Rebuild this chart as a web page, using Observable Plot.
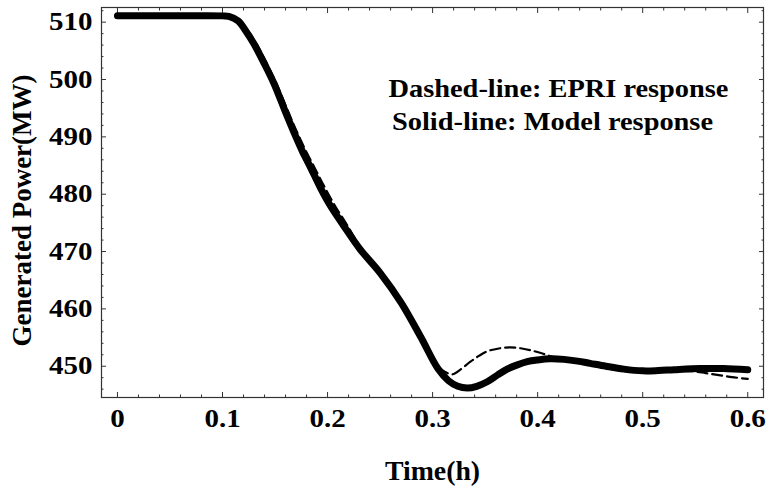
<!DOCTYPE html>
<html>
<head>
<meta charset="utf-8">
<script src="https://cdn.jsdelivr.net/npm/d3@7"></script>
<script src="https://cdn.jsdelivr.net/npm/@observablehq/plot@0.6"></script>
<style>
  html, body { margin: 0; padding: 0; background: white; }
</style>
</head>
<body>
<div id="chart"></div>
<script>
// ---- data ----
const modelT = [0, 0.05, 0.1, 0.106, 0.115, 0.122, 0.13, 0.14, 0.149, 0.16, 0.168, 0.176, 0.184, 0.193, 0.203, 0.215, 0.231, 0.25, 0.27, 0.289, 0.305, 0.315, 0.324, 0.333, 0.342, 0.352, 0.362, 0.371, 0.38, 0.39, 0.4, 0.412, 0.425, 0.438, 0.45, 0.465, 0.482, 0.5, 0.515, 0.53, 0.555, 0.577, 0.6];
const modelP = [511.1, 511.1, 511.1, 511.0, 510.2, 508.5, 506.2, 502.7, 499.3, 494.3, 490.8, 487.5, 484.6, 481.2, 477.9, 474.6, 470.4, 466.3, 461.1, 455.0, 449.6, 447.5, 446.5, 446.2, 446.5, 447.3, 448.5, 449.5, 450.2, 450.8, 451.1, 451.3, 451.2, 450.9, 450.5, 450.0, 449.5, 449.2, 449.25, 449.4, 449.6, 449.6, 449.4];

const epriT = [0, 0.05, 0.1, 0.108, 0.117, 0.125, 0.133, 0.143, 0.152, 0.163, 0.171, 0.18, 0.188, 0.197, 0.207, 0.218, 0.232, 0.25, 0.27, 0.289, 0.305, 0.312, 0.319, 0.327, 0.336, 0.344, 0.352, 0.363, 0.374, 0.385, 0.393, 0.403, 0.415, 0.43, 0.45, 0.465, 0.482, 0.5, 0.52, 0.535, 0.549, 0.56, 0.571, 0.585, 0.6];
const epriP = [511.1, 511.1, 511.1, 511.0, 510.1, 508.3, 506.0, 502.5, 499.0, 494.2, 490.8, 487.3, 484.5, 481.3, 478.0, 474.8, 470.6, 466.3, 461.0, 454.8, 450.0, 449.0, 448.6, 449.5, 450.8, 451.8, 452.6, 453.1, 453.3, 453.1, 452.8, 452.3, 451.6, 451.0, 450.3, 449.7, 449.2, 449.0, 449.1, 449.2, 449.1, 448.8, 448.5, 448.1, 447.8];

const xTicks = [0, 0.1, 0.2, 0.3, 0.4, 0.5, 0.6];
const xMinorTicks = [0.02, 0.04, 0.06, 0.08, 0.12, 0.14, 0.16, 0.18, 0.22, 0.24, 0.26, 0.28, 0.32, 0.34, 0.36, 0.38, 0.42, 0.44, 0.46, 0.48, 0.52, 0.54, 0.56, 0.58];
const yTicks = [450, 460, 470, 480, 490, 500, 510];
const yMinorTicks = [446, 448, 452, 454, 456, 458, 462, 464, 466, 468, 472, 474, 476, 478, 482, 484, 486, 488, 492, 494, 496, 498, 502, 504, 506, 508, 512];
const xTickLabels = ["0", "0.1", "0.2", "0.3", "0.4", "0.5", "0.6"];

const xTitle = "Time(h)";
const yTitle = "Generated Power(MW)";
const legendLines = ["Dashed-line: EPRI response", "Solid-line: Model response"];

// ---- build tables ----
const model = modelT.map((t, i) => ({t, p: modelP[i]}));
const epri = epriT.map((t, i) => ({t, p: epriP[i]}));

const axisColor = "#333";
const major = 5, minor = 2.5;

function xTickAxis(anchor, ticks, size) {
  return Plot.axisX({
    anchor, ticks, tickSize: size, tickFormat: () => "", label: null,
    stroke: axisColor,
    dy: anchor === "bottom" ? -size : size
  });
}
function yTickAxis(anchor, ticks, size) {
  return Plot.axisY({
    anchor, ticks, tickSize: size, tickFormat: () => "", label: null,
    stroke: axisColor,
    dx: anchor === "left" ? size : -size
  });
}

const chart = Plot.plot({
  width: 768,
  height: 491,
  marginLeft: 101,
  marginRight: 5,
  marginTop: 7,
  marginBottom: 94,
  style: {
    fontFamily: "'Liberation Serif', 'Times New Roman', serif",
    fontWeight: "bold",
    fontSize: "25px",
    color: "black",
    background: "white"
  },
  x: {domain: [-0.0152, 0.615], axis: null},
  y: {domain: [444.55, 512.56], axis: null},
  marks: [
    Plot.frame({stroke: axisColor, strokeWidth: 1.2}),
    xTickAxis("bottom", xTicks, major),
    xTickAxis("bottom", xMinorTicks, minor),
    xTickAxis("top", xTicks, major),
    xTickAxis("top", xMinorTicks, minor),
    yTickAxis("left", yTicks, major),
    yTickAxis("left", yMinorTicks, minor),
    yTickAxis("right", yTicks, major),
    yTickAxis("right", yMinorTicks, minor),
    Plot.axisX({
      anchor: "bottom", ticks: xTicks, tickSize: 0, tickPadding: 12,
      tickFormat: (d) => xTickLabels[xTicks.indexOf(d)], label: null,
      fontSize: 25
    }),
    Plot.axisY({
      anchor: "left", ticks: yTicks, tickSize: 0, tickPadding: 9,
      tickFormat: (d) => String(d), label: null,
      fontSize: 25
    }),
    Plot.line(epri, {x: "t", y: "p", stroke: "black", strokeWidth: 2.2, strokeDasharray: "10,5", curve: "catmull-rom"}),
    Plot.line(model, {x: "t", y: "p", stroke: "black", strokeWidth: 7, curve: "catmull-rom", strokeLinecap: "round"}),
    Plot.text([xTitle], {frameAnchor: "bottom", dy: 74, fontSize: 27, lineAnchor: "middle", textAnchor: "middle"}),
    Plot.text([yTitle], {frameAnchor: "left", dx: -79, dy: 8, rotate: -90, fontSize: 27, lineAnchor: "middle", textAnchor: "middle"}),
    Plot.text([legendLines[0]], {frameAnchor: "top-right", dx: -205, dy: 81, fontSize: 25, textAnchor: "middle", lineAnchor: "middle"}),
    Plot.text([legendLines[1]], {frameAnchor: "top-right", dx: -211, dy: 114, fontSize: 25, textAnchor: "middle", lineAnchor: "middle"})
  ]
});

// The reference's lettering is slightly wider than the font's natural proportions:
// widen horizontally about each text's own anchor point.
function stretchEl(t, s) {
  const x = parseFloat(t.getAttribute("x")) || 0;
  const tr = t.getAttribute("transform") || "";
  t.setAttribute("transform", `${tr} translate(${x},0) scale(${s},1) translate(${-x},0)`);
}
chart.querySelectorAll('g[aria-label="x-axis tick label"] text, g[aria-label="y-axis tick label"] text')
  .forEach((t) => stretchEl(t, 1.16));
chart.querySelectorAll("text").forEach((t) => {
  const s = t.textContent;
  if (legendLines.includes(s)) stretchEl(t, 1.135);
  else if (s === xTitle) stretchEl(t, 1.03);
});

document.getElementById("chart").appendChild(chart);
</script>
</body>
</html>
